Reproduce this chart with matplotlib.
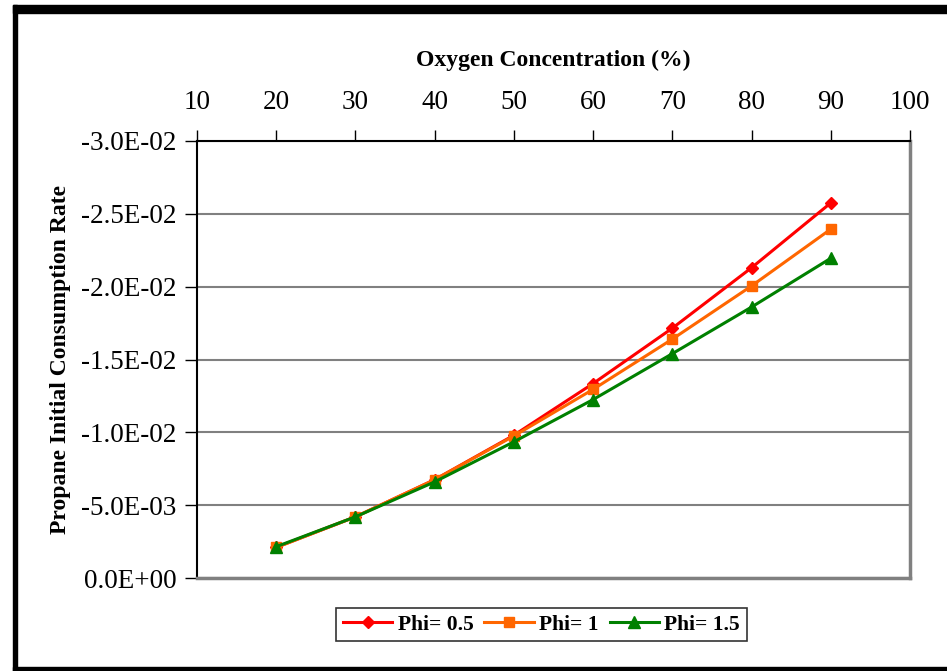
import matplotlib.pyplot as plt
from matplotlib.patches import Rectangle

# Данные
oxygen = [20, 30, 40, 50, 60, 70, 80, 90]
phi_05 = [-2.1e-3, -4.2e-3, -6.75e-3, -9.8e-3, -1.335e-2, -1.715e-2, -2.13e-2, -2.575e-2]
phi_1 = [-2.1e-3, -4.2e-3, -6.75e-3, -9.75e-3, -1.295e-2, -1.64e-2, -2.005e-2, -2.395e-2]
phi_15 = [-2.15e-3, -4.2e-3, -6.6e-3, -9.35e-3, -1.225e-2, -1.54e-2, -1.86e-2, -2.195e-2]

x_ticks = [10, 20, 30, 40, 50, 60, 70, 80, 90, 100]
y_ticks = [0.0, -5e-3, -1e-2, -1.5e-2, -2e-2, -2.5e-2, -3e-2]

plt.rcParams['font.family'] = ['Liberation Serif', 'DejaVu Serif']

W, H = 947, 671
fig = plt.figure(figsize=(W / 100, H / 100), dpi=100)

# Чёрная рамка вокруг картинки (слева, сверху, снизу)
for (x0, y0, w, h) in [(13, 5, 4, 666), (13, 5, 934, 8), (13, 667, 934, 4)]:
    fig.patches.append(Rectangle((x0 / W, 1 - (y0 + h) / H), w / W, h / H,
                                 transform=fig.transFigure, color='black', zorder=0))

ax = fig.add_axes([197 / W, 1 - 578 / H, (910 - 197) / W, (578 - 141) / H])

ax.plot(oxygen, phi_05, color='#FF0000', marker='D', markersize=6, linewidth=2.2, label='Phi= 0.5')
ax.plot(oxygen, phi_1, color='#FF6600', marker='s', markersize=7, linewidth=2.2, label='Phi= 1')
ax.plot(oxygen, phi_15, color='#008000', marker='^', markersize=8, linewidth=2.2, label='Phi= 1.5')

ax.set_xlim(10, 100)
ax.set_ylim(0, -0.03)
ax.xaxis.tick_top()
ax.xaxis.set_label_position('top')
ax.set_xticks(x_ticks)
ax.set_xticklabels([str(v) for v in x_ticks], fontsize=19.5)
ax.set_yticks(y_ticks)
ax.set_yticklabels(['0.0E+00' if v == 0 else f'{v:.1E}' for v in y_ticks], fontsize=19.5)
ax.tick_params(axis='x', direction='out', length=8, width=1, pad=11)
ax.tick_params(axis='y', direction='out', length=9, width=1, pad=6)

ax.grid(axis='y', color='#808080', linewidth=1.5)
ax.set_axisbelow(True)

for side in ['left', 'top']:
    ax.spines[side].set_color('black')
    ax.spines[side].set_linewidth(1.5)
for side in ['right', 'bottom']:
    ax.spines[side].set_color('#808080')
    ax.spines[side].set_linewidth(2.5)

ax.set_xlabel('Oxygen Concentration (%)', fontsize=17, fontweight='bold', labelpad=17)
ax.set_ylabel('Propane Initial Consumption Rate', fontsize=17, fontweight='bold', labelpad=7)

leg = fig.legend(loc='center', bbox_to_anchor=(541.5 / W, 1 - 624.5 / H), ncol=3,
                 prop={'weight': 'bold', 'size': 15.5}, frameon=True, fancybox=False,
                 shadow=False, handlelength=2.3, columnspacing=0.5, handletextpad=0.25,
                 borderpad=0.3, borderaxespad=0)
leg.get_frame().set_edgecolor('black')
leg.get_frame().set_linewidth(1.2)

fig.savefig('out.png', dpi=100)
